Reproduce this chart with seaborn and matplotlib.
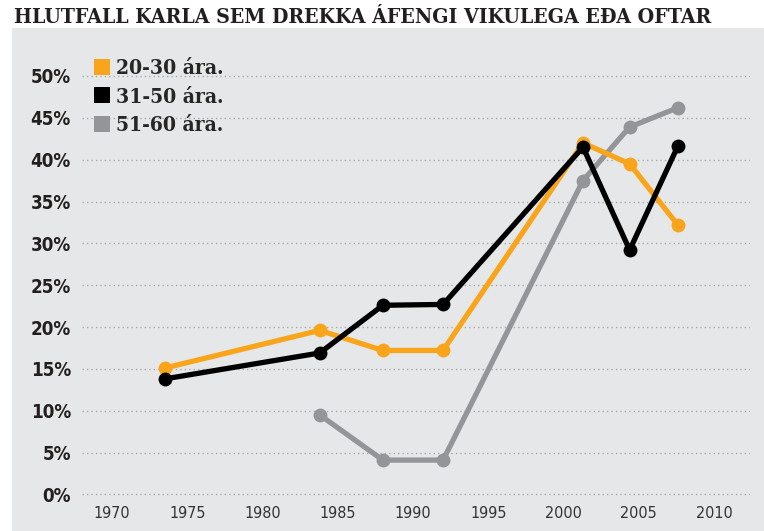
import pandas as pd
import matplotlib.pyplot as plt
import seaborn as sns
from matplotlib.lines import Line2D
from matplotlib.patches import Rectangle

# survey years
years = [1973.5, 1983.8, 1988, 1992, 2001.3, 2004.4, 2007.6]
age_20_30 = [15.1, 19.6, 17.2, 17.2, 42.0, 39.5, 32.2]
age_31_50 = [13.8, 16.9, 22.6, 22.7, 41.5, 29.2, 41.6]
years_51_60 = [1983.8, 1988, 1992, 2001.3, 2004.4, 2007.6]
age_51_60 = [9.5, 4.1, 4.1, 37.5, 43.9, 46.2]

groups = ["20-30 ára.", "31-50 ára.", "51-60 ára."]
colors = ["#F9A51B", "#000000", "#939598"]
x_ticks = [1970, 1975, 1980, 1985, 1990, 1995, 2000, 2005, 2010]
y_ticks = [0, 5, 10, 15, 20, 25, 30, 35, 40, 45, 50]

title = "HLUTFALL KARLA SEM DREKKA ÁFENGI VIKULEGA EÐA OFTAR"
panel = "#E6E7E8"


def build_frame():
    parts = [
        pd.DataFrame({"year": years, "value": age_20_30, "group": groups[0]}),
        pd.DataFrame({"year": years, "value": age_31_50, "group": groups[1]}),
        pd.DataFrame({"year": years_51_60, "value": age_51_60, "group": groups[2]}),
    ]
    return pd.concat(parts, ignore_index=True)


df = build_frame()

sns.set_style("white")
fig = plt.figure(figsize=(7.64, 5.31), dpi=100)
fig.patch.set_facecolor("white")
fig.patches.append(Rectangle((12 / 764, 0), 1, (531 - 28) / 531,
                             transform=fig.transFigure, facecolor=panel,
                             edgecolor="none", zorder=-5))

ax = fig.add_axes([82 / 764, 31 / 531, (750 - 82) / 764, (500 - 40) / 531])
ax.set_facecolor("none")

# draw back to front: gray, orange, black on top
order = [groups[2], groups[0], groups[1]]
for g in order:
    sub = df[df["group"] == g]
    sns.lineplot(data=sub, x="year", y="value", ax=ax, color=colors[groups.index(g)],
                 linewidth=3.8, marker="o", markersize=10, markeredgewidth=0,
                 sort=False, legend=False, zorder=3)

ax.set_xlim(1968.0, 2012.4)
ax.set_ylim(-0.67, 54.3)
ax.set_xticks(x_ticks)
ax.set_xticklabels([str(t) for t in x_ticks], family="DejaVu Sans", stretch="condensed",
                   fontweight="light", fontsize=11.5, color="#333333")
ax.set_yticks(y_ticks)
ax.set_yticklabels([f"{t}%" for t in y_ticks], family="DejaVu Sans", stretch="condensed",
                   fontweight="bold", fontsize=13.5, color="#231F20")
ax.tick_params(axis="both", length=0)
ax.tick_params(axis="y", pad=8)
ax.tick_params(axis="x", pad=4)
ax.set_xlabel("")
ax.set_ylabel("")
for s in ax.spines.values():
    s.set_visible(False)

for t in y_ticks:
    ax.axhline(t, color="#A7A9AC", linewidth=1.0, linestyle=(0, (1, 2.2)), zorder=1)

handles = [Line2D([], [], marker="s", linestyle="none", markersize=11,
                  markerfacecolor=c, markeredgewidth=0) for c in colors]
leg = ax.legend(handles, groups, loc="upper left", bbox_to_anchor=(86 / 764, 1 - 50 / 531),
                bbox_transform=fig.transFigure, frameon=False, handlelength=0.75,
                handletextpad=0.3, labelspacing=0.4, borderaxespad=0,
                prop={"family": "DejaVu Serif", "stretch": "condensed",
                      "weight": "bold", "size": 15})

fig.text(14 / 764, 1 - 7 / 531, title, ha="left", va="top", family="DejaVu Serif",
         stretch="condensed", fontweight="heavy", fontsize=15.2, color="#231F20")

fig.savefig("out.png", dpi=100)
